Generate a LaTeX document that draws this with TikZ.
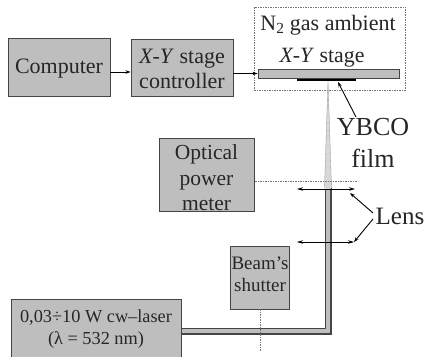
\documentclass[tikz,border=0pt]{standalone}
\usepackage{fontspec}
\setmainfont{Liberation Serif}
\usetikzlibrary{arrows.meta,calc}
\definecolor{boxgray}{HTML}{BEBEBE}
\definecolor{edgegray}{HTML}{454545}
\newcommand{\fs}[1]{\fontsize{#1}{#1}\selectfont}
\tikzset{
  x=1pt,y=-1pt,
  unitbox/.style={draw=edgegray,fill=boxgray,line width=0.9pt,inner sep=0pt,align=center,text=black!85,minimum width=#1},
  unitbox/.default=100pt,
  link/.style={draw=black,line width=0.9pt,-{Stealth[length=5pt,width=3.5pt]}},
  lensline/.style={draw=black,line width=0.9pt,{Stealth[length=6pt,width=3.5pt]}-{Stealth[length=6pt,width=3.5pt]}},
  dots/.style={draw=edgegray!75,line width=0.55pt,dash pattern=on 1.5pt off 1pt},
  labeltext/.style={inner sep=0pt,text=black!85,align=center}
}
\begin{document}
\begin{tikzpicture}
\path[use as bounding box,clip] (0,0) rectangle (425,356);
\fill[white] (0,0) rectangle (425,356);
% ambient enclosure
\node[dots,draw,minimum width=151pt,minimum height=83pt,inner sep=0pt] (ambient) at (329.5,48.5) {};
\node[labeltext,font=\fs{22}] (ambientlabel) at (328,25.5) {N\textsubscript{2} gas ambient};
% beam: cone and tube
\fill[boxgray!60,draw=edgegray!60,line width=0.3pt] (328,81) -- (324.5,188) -- (331.5,188) -- cycle;
\draw[edgegray,line width=7pt] (181,331) -- (328,331) -- (328,188);
\draw[boxgray,line width=4.6pt] (181,331) -- (328,331) -- (328,188);
\fill[boxgray!60] (325,181) rectangle (331,189);
% boxes
\node[unitbox=102pt,minimum height=58pt] (computer) at (59,67) {};
\node[labeltext,font=\fs{22}] (computertext) at (59,68.5) {Computer};
\node[unitbox=102pt,minimum height=57pt] (controller) at (182,67.5) {};
\node[labeltext,font=\fs{22}] (controllertext) at (182,69) {\textit{X-Y} stage\\[3pt]controller};
\node[unitbox=95pt,minimum height=73pt] (meter) at (206.5,174.5) {};
\node[labeltext,font=\fs{21.5}] (metertext) at (206.5,178) {Optical\\[4pt]power\\[4pt]meter};
\node[unitbox=59pt,minimum height=63pt] (shutter) at (260,277.5) {};
\node[labeltext,font=\fs{19}] (shuttertext) at (260,274.5) {Beam’s\\[3pt]shutter};
\node[unitbox=170pt,minimum height=70pt] (laser) at (96,334) {};
\node[labeltext,font=\fs{18.3}] (lasertext) at (96,329) {0,03÷10 W cw–laser\\[3.5pt](λ = 532 nm)};
\node[unitbox=141pt,minimum height=9pt] (stage) at (328.5,73.5) {};
\node[labeltext,font=\fs{21.8}] (stagelabel) at (322,58) {\textit{X-Y} stage};
\node[fill=black,minimum width=59pt,minimum height=2.5pt,inner sep=0pt] (film) at (326.5,80) {};
% dotted sight lines
\coordinate (sightL) at (255,181);
\coordinate (sightR) at (357,181);
\draw[dots] (sightL) -- (sightR);
\coordinate (shutterEnd) at (260,351);
\draw[dots] (shutter.south) -- (shutterEnd);
% lenses
\coordinate (lensAL) at (297,189);
\coordinate (lensAR) at (355,189);
\coordinate (lensBL) at (297,242);
\coordinate (lensBR) at (354,242);
\draw[lensline] (lensAL) -- (lensAR);
\draw[lensline,line width=0.7pt] (lensBL) -- (lensBR);
% labels
\node[labeltext,font=\fs{25}] (lens) at (400,216) {Lens};
\node[labeltext,font=\fs{26}] (ybco) at (373,127.5) {YBCO};
\node[labeltext,font=\fs{26}] (filmlabel) at (373,158) {film};
% connectors
\coordinate (filmTip) at (338,82);
\coordinate (ybcoTail) at (356,117);
\draw[link] ([yshift=-5pt]computer.east) -- ([yshift=-5pt]computer.east -| controller.west);
\draw[link] (controller.east |- stage.west) -- (stage.west);
\draw[link] (ybcoTail) -- (filmTip);
\coordinate (lensHubA) at (373,213);
\coordinate (lensHubB) at (373,219);
\coordinate (lensTipA) at (350,193);
\draw[link] (lensHubA) -- (lensTipA);
\draw[link] (lensHubB) -- (lensBR);
\end{tikzpicture}
\end{document}
